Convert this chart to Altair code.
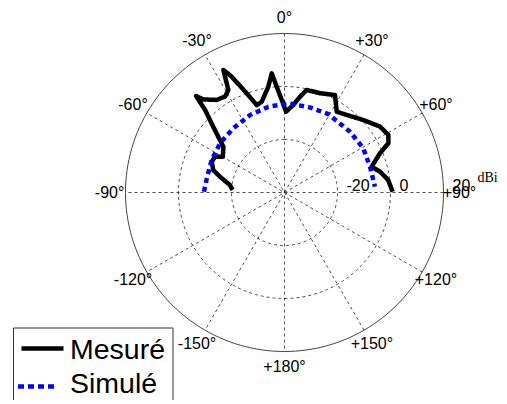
import altair as alt
import pandas as pd
import numpy as np

# ---- data (angle in degrees, clockwise from top; value in dBi)
meas_angle = [-87.2, -82.2, -76.2, -72.5, -67.1, -62.7, -59.9, -53.2, -50.9, -47.3,
              -43.9, -42.5, -41.1, -36.2, -31.8, -28.7, -26.5, -24.5, -20.9, -17.6,
              -14.1, -8.7, -6.1, -4.2, -1.7, 1.1, 5.7, 9.2, 12.2, 19.7,
              27.4, 32.9, 38.7, 47.4, 55.4, 61.0, 64.6, 67.7, 73.5, 77.7,
              83.1, 89.6]
meas_dbi = [-20.4, -19.2, -14.9, -11.8, -10.2, -10.5, -13.1, -11.2, -8.6, -3.4,
            3.2, 9.4, 6.6, 3.3, 2.6, 4.1, 11.7, 8.0, 0.1, -5.4,
            -4.7, 0.4, 5.2, 0.0, -5.1, -9.5, -6.8, -3.4, -0.4, -0.2,
            1.4, -3.7, -2.5, 0.4, 3.8, 4.8, 3.4, -1.1, -5.7, -3.1,
            -0.6, 0.8]
sim_angle = [-89.4, -79.7, -65.9, -52.7, -38.6, -24.0, -10.7, 2.4, 16.7, 29.2,
             47.1, 60.7, 73.2, 86.3]
sim_dbi = [-9.6, -10.2, -9.9, -9.4, -9.0, -8.0, -7.1, -6.3, -6.5, -6.1,
           -6.3, -5.9, -6.3, -5.8]

series_names = ["Mesuré", "Simulé"]
series_colors = ["#000000", "#0000ff"]
ring_dbi = [-20, 0, 20]
ring_labels = ["-20", "0", "20"]
spoke_angles = [0, 30, 60, 90, 120, 150]
angle_ticks = [0, 30, 60, 90, 120, 150, 180, -150, -120, -90, -60, -30]
angle_labels = ["0°", "+30°", "+60°", "+90°", "+120°", "+150°", "+180°",
                "-150°", "-120°", "-90°", "-60°", "-30°"]
unit_label = "dBi"

R_CENTER = -40      # dBi at the centre
R_OUTER = 20        # dBi at the outer circle
LABEL_R = 26        # dBi-equivalent radius of the angle labels

# ---- layout
K = 2.65            # px per dB
W, H = 491, 392
CX, CY = 276.5, 184.5
xs = alt.Scale(domain=[-CX / K, (W - CX) / K], nice=False, zero=False)
ys = alt.Scale(domain=[-(H - CY) / K, CY / K], nice=False, zero=False)
X = alt.X("x:Q", scale=xs, axis=None)
Y = alt.Y("y:Q", scale=ys, axis=None)

def polar(ch, rfield="v", afield="a"):
    return ch.transform_calculate(
        r=f"datum.{rfield} - ({R_CENTER})"
    ).transform_calculate(
        x=f"datum.r * sin(datum.{afield} * PI / 180)",
        y=f"datum.r * cos(datum.{afield} * PI / 180)",
    )

# rings
ring_rows = []
for rv in ring_dbi:
    for a in range(0, 361, 2):
        ring_rows.append({"ring": rv, "a": a, "v": rv})
rings = pd.DataFrame(ring_rows)
inner_rings = polar(alt.Chart(rings[rings.ring < R_OUTER]).mark_line(
    stroke="#222", strokeWidth=0.8, strokeDash=[3, 3]
).encode(x=X, y=Y, detail="ring:N", order="a:Q"))
outer_ring = polar(alt.Chart(rings[rings.ring == R_OUTER]).mark_line(
    stroke="#444", strokeWidth=1
).encode(x=X, y=Y, order="a:Q"))

# spokes
spokes = pd.DataFrame({"a": spoke_angles})
RR = R_OUTER - R_CENTER
spoke_layer = alt.Chart(spokes).transform_calculate(
    x=f"{RR} * sin(datum.a * PI / 180)",
    y=f"{RR} * cos(datum.a * PI / 180)",
    x2=f"-{RR} * sin(datum.a * PI / 180)",
    y2=f"-{RR} * cos(datum.a * PI / 180)",
).mark_rule(stroke="#222", strokeWidth=0.8, strokeDash=[3, 3]).encode(
    x=X, y=Y, x2="x2:Q", y2="y2:Q")

# angle labels
alabels = pd.DataFrame({"a": angle_ticks, "t": angle_labels, "v": LABEL_R})
angle_text = polar(alt.Chart(alabels).mark_text(
    font="Liberation Sans", fontSize=16, color="black", align="center", baseline="middle"
).encode(x=X, y=Y, text="t:N"))

# ring labels
rlabels = pd.DataFrame({"a": [90] * 3, "v": ring_dbi, "t": ring_labels})
ring_text = polar(alt.Chart(rlabels).mark_text(
    font="Liberation Sans", fontSize=16, color="black", align="left",
    baseline="alphabetic", dx=9, dy=-2
).encode(x=X, y=Y, text="t:N"))

unit_df = pd.DataFrame({"a": [90], "v": [R_OUTER], "t": [unit_label]})
unit_text = polar(alt.Chart(unit_df).mark_text(
    font="Liberation Serif", fontSize=14, color="black", align="left",
    baseline="alphabetic", dx=34, dy=-11
).encode(x=X, y=Y, text="t:N"))

# data series
df = pd.concat([
    pd.DataFrame({"series": series_names[0], "a": meas_angle, "v": meas_dbi,
                  "i": range(len(meas_angle))}),
    pd.DataFrame({"series": series_names[1], "a": sim_angle, "v": sim_dbi,
                  "i": range(len(sim_angle))}),
])
cscale = alt.Scale(domain=series_names, range=series_colors)
dscale = alt.Scale(domain=series_names, range=[[1, 0], [5, 4]])
lines = polar(alt.Chart(df).mark_line(strokeWidth=4.5, strokeJoin="round").encode(
    x=X, y=Y, detail="series:N", order="i:Q",
    color=alt.Color("series:N", scale=cscale, legend=None),
    strokeDash=alt.StrokeDash("series:N", scale=dscale, legend=None),
))

# hand-drawn legend box (bottom-left)
leg_box = alt.Chart(pd.DataFrame({"k": [0]})).mark_rect(
    fill="white", stroke="#333", strokeWidth=1
).encode(x=alt.value(5.5), x2=alt.value(165), y=alt.value(320), y2=alt.value(H + 20))
leg_line1 = alt.Chart(pd.DataFrame({"k": [0]})).mark_rule(
    color=series_colors[0], strokeWidth=4.5
).encode(x=alt.value(13.5), x2=alt.value(55.5), y=alt.value(340.5))
leg_line2 = alt.Chart(pd.DataFrame({"k": [0]})).mark_rule(
    color=series_colors[1], strokeWidth=4.5, strokeDash=[6, 4]
).encode(x=alt.value(10), x2=alt.value(50), y=alt.value(378.5))
leg_t1 = alt.Chart(pd.DataFrame({"k": [0]})).mark_text(
    font="Liberation Sans", fontSize=28.5, color="black", align="left", baseline="alphabetic"
).encode(x=alt.value(62), y=alt.value(350.5), text=alt.value(series_names[0]))
leg_t2 = alt.Chart(pd.DataFrame({"k": [0]})).mark_text(
    font="Liberation Sans", fontSize=28.5, color="black", align="left", baseline="alphabetic"
).encode(x=alt.value(62), y=alt.value(385), text=alt.value(series_names[1]))

chart = alt.layer(
    inner_rings, spoke_layer, outer_ring, lines, angle_text, ring_text, unit_text,
    leg_box, leg_line1, leg_line2, leg_t1, leg_t2
).properties(width=W, height=H, padding=0, autosize="none").configure_view(stroke=None)

chart.save("out.html", embed_options={"renderer": "svg", "actions": False})
